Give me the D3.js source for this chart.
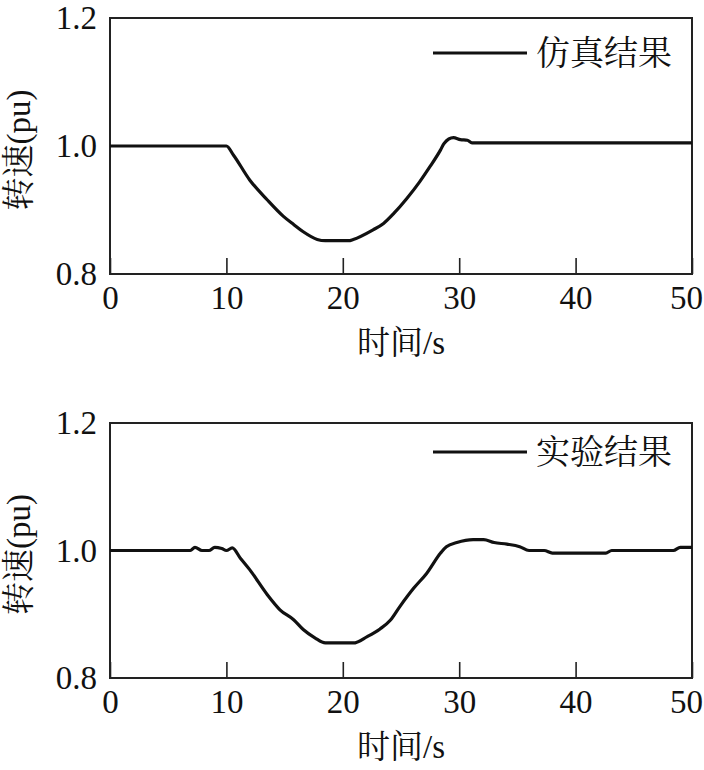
<!DOCTYPE html>
<html><head><meta charset="utf-8">
<script src="https://cdn.jsdelivr.net/npm/d3@7"></script>
<style>body{margin:0;background:#fff}</style>
</head><body>
<svg id="c" width="704" height="770"></svg>
<script>
const xTicks = [0, 10, 20, 30, 40, 50];
const yTicks = [0.8, 1.0, 1.2];
const xLabel = "时间/s";
const yLabel = "转速(pu)";
const legend1 = "仿真结果";
const legend2 = "实验结果";

const simT = [0, 10, 10.6, 12.0, 13.5, 14.9, 15.8, 16.6, 17.8, 18.5, 20.5, 20.9, 22.6, 23.5, 24.4, 25.5, 26.6, 27.5, 28.4, 28.7, 29.5, 30.1, 30.7, 31.1, 50];
const simV = [1.0, 1.0, 0.986, 0.947, 0.916, 0.890, 0.877, 0.866, 0.854, 0.852, 0.852, 0.854, 0.869, 0.879, 0.895, 0.918, 0.944, 0.968, 0.994, 1.004, 1.013, 1.010, 1.009, 1.005, 1.005];

const expT = [0, 6.9, 7.3, 7.9, 8.5, 9.0, 9.6, 10.0, 10.5, 11.2, 12.0, 13.5, 14.6, 15.8, 16.6, 17.6, 18.5, 20.9, 22.1, 23.2, 24.1, 24.9, 26.1, 27.2, 28.4, 28.9, 29.8, 31.2, 32.1, 33.0, 34.1, 35.2, 36.0, 37.3, 38.0, 42.6, 43.1, 48.4, 49.0, 50];
const expV = [1.0, 1.0, 1.005, 1.0, 1.0, 1.005, 1.003, 1.0, 1.004, 0.988, 0.970, 0.931, 0.907, 0.891, 0.876, 0.863, 0.855, 0.855, 0.865, 0.877, 0.891, 0.912, 0.941, 0.964, 0.996, 1.006, 1.0125, 1.017, 1.017, 1.0125, 1.010, 1.006, 1.0, 1.0, 0.996, 0.996, 1.0, 1.0, 1.005, 1.005];

const svg = d3.select("#c");
const SERIF = '"Liberation Serif", Tinos, "Times New Roman", Times, "Nimbus Roman", "Nimbus Roman No9 L", FreeSerif, "Noto Serif", "DejaVu Serif", serif';
const CJK = '"Noto Serif CJK SC", "Source Han Serif SC", "Noto Sans CJK SC", sans-serif';
const MIX = '"Liberation Serif", Tinos, "Times New Roman", Times, "Nimbus Roman", FreeSerif, "Noto Serif", "DejaVu Serif", "Noto Serif CJK SC", "Noto Sans CJK SC", serif';

function panel(top, bottom, T, V, legText, legY) {
  const left = 110, right = 692;
  const x = d3.scaleLinear().domain([0, 50]).range([left, right]);
  const y = d3.scaleLinear().domain([0.8, 1.2]).range([bottom, top]);
  const g = svg.append("g");

  const ax = g.append("g").attr("transform", `translate(0,${bottom})`)
    .call(d3.axisBottom(x).tickValues(xTicks).tickSize(-16).tickPadding(12).tickFormat(d3.format("d")));
  ax.attr("font-family", null).attr("font-size", null);
  ax.select(".domain").remove();
  ax.selectAll("line").attr("stroke", "#222").attr("stroke-width", 1.6);
  ax.selectAll("text").style("font-family", SERIF).style("font-size", "33px").attr("fill", "#111")
    .attr("dx", d => d === 50 ? -6 : 0);

  const ay = g.append("g").attr("transform", `translate(${left},0)`)
    .call(d3.axisLeft(y).tickValues(yTicks).tickSize(0).tickPadding(13).tickFormat(d3.format(".1f")));
  ay.attr("font-family", null).attr("font-size", null);
  ay.select(".domain").remove();
  ay.selectAll("text").style("font-family", SERIF).style("font-size", "33px").attr("fill", "#111");

  g.append("rect").attr("x", left).attr("y", top).attr("width", right - left).attr("height", bottom - top)
    .attr("fill", "none").attr("stroke", "#222").attr("stroke-width", 2);

  const pts = T.map((t, i) => [t, V[i]]);
  g.append("path").datum(pts)
    .attr("d", d3.line().x(d => x(d[0])).y(d => y(d[1])).curve(d3.curveMonotoneX))
    .attr("fill", "none").attr("stroke", "#111").attr("stroke-width", 3.2).attr("stroke-linejoin", "round");

  g.append("line").attr("x1", 433).attr("x2", 527).attr("y1", legY).attr("y2", legY)
    .attr("stroke", "#111").attr("stroke-width", 3.2);
  g.append("text").attr("x", 536).attr("y", legY).attr("dy", "0.36em")
    .style("font-family", CJK).style("font-size", "34px").attr("fill", "#111").text(legText);

  g.append("text").attr("x", (left + right) / 2).attr("y", bottom + 80)
    .attr("text-anchor", "middle").style("font-family", MIX).style("font-size", "33px").attr("fill", "#111").text(xLabel);
  g.append("text").attr("transform", `translate(30,${(top + bottom) / 2 + 4}) rotate(-90)`)
    .attr("text-anchor", "middle").style("font-family", MIX).style("font-size", "33px").attr("fill", "#111").text(yLabel);
}

panel(18, 274, simT, simV, legend1, 53);
panel(423, 678, expT, expV, legend2, 452);
</script>
</body></html>
